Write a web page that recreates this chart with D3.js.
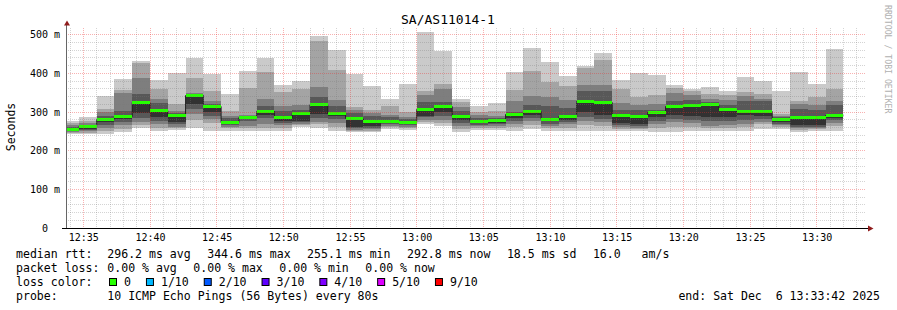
<!DOCTYPE html>
<html>
<head>
<meta charset="utf-8">
<script src="https://cdn.jsdelivr.net/npm/d3@7"></script>
<style>
  body { margin: 0; background: #fff; }
  svg text { font-family: 'DejaVu Sans Mono', monospace; white-space: pre; }
</style>
</head>
<body>
<svg id="chart"></svg>
<script>

// one entry per 80 s step: the 10 pings of that round, sorted (ms)
const pings = [
    [243, 246, 249, 251, 253, 256, 262, 266, 271, 278],
    [244, 247, 250, 253, 256, 263, 267, 271, 278, 288],
    [244, 252, 260, 267, 273, 281, 289, 300, 309, 342],
    [248, 257, 267, 274, 281, 291, 303, 349, 358, 386],
    [258, 266, 275, 285, 297, 325, 347, 388, 428, 433],
    [250, 260, 268, 277, 286, 305, 323, 335, 360, 384],
    [253, 258, 262, 268, 273, 293, 298, 303, 321, 401],
    [260, 280, 295, 309, 321, 344.6, 347, 350, 388, 441],
    [252, 272, 282, 289, 300, 315, 321, 329, 354, 398],
    [252, 258, 262, 266, 270, 274, 284, 291, 303, 347],
    [252, 258, 265, 276, 282, 287, 289, 292, 362, 407],
    [250, 260, 270, 285, 293, 302, 315, 335, 404, 441],
    [252, 258, 266, 272, 278, 286, 303, 315, 351, 371],
    [262, 266, 270, 274, 278, 297, 306, 319, 360, 381],
    [260, 268, 275, 285, 295, 322, 338, 364, 485, 498],
    [252, 262, 272, 282, 291, 297, 315, 332, 410, 461],
    [248, 251, 254, 258, 262, 284, 297, 306, 312, 399],
    [248, 252, 255, 259, 263, 278, 290, 298, 306, 368],
    [257, 261, 265, 268, 272, 278, 287, 293, 315, 335],
    [254, 258, 262, 266, 270, 274, 281, 288, 299, 372],
    [268, 274, 280, 286, 291, 308, 326, 343, 355, 508],
    [264, 272, 280, 290, 300, 316, 326, 360, 372, 459],
    [248, 257, 265, 272, 280, 291, 302, 312, 326, 335],
    [253, 258, 263, 267, 271, 277, 284, 292, 300, 315],
    [254, 259, 264, 268, 272, 279, 284, 290, 302, 323],
    [252, 262, 270, 278, 285, 294, 300, 328, 358, 404],
    [257, 266, 276, 285, 293, 302, 319, 342, 407, 466],
    [252, 258, 265, 270, 276, 283, 315, 339, 378, 429],
    [250, 260, 268, 274, 280, 291, 310, 332, 368, 394],
    [252, 266, 276, 288, 300, 328, 355, 371, 414, 418],
    [252, 264, 274, 283, 293, 327, 354, 369, 435, 453],
    [250, 256, 262, 266, 272, 293, 306, 323, 360, 384],
    [252, 256, 260, 264, 269, 290, 306, 319, 338, 401],
    [248, 260, 270, 278, 286, 300, 306, 321, 345, 397],
    [248, 262, 274, 283, 293, 315, 328, 349, 362, 371],
    [250, 262, 271, 280, 289, 319, 330, 345, 355, 360],
    [252, 258, 265, 276, 286, 322, 326, 335, 347, 364],
    [250, 258, 266, 276, 286, 309, 318, 330, 343, 354],
    [252, 262, 270, 280, 293, 302, 328, 341, 352, 390],
    [257, 268, 275, 282, 291, 302, 329, 334, 347, 381],
    [257, 262, 266, 270, 274, 281, 286, 291, 295, 354],
    [248, 254, 258, 262, 266, 288, 309, 321, 329, 404],
    [252, 256, 259, 262, 266, 286, 306, 319, 338, 372],
    [252, 264, 272, 279, 285, 292.8, 317, 329, 360, 464]
]

const medians = [
    255.1, 263, 281, 291, 325, 305, 293, 344.6, 315, 274, 287, 302,
    286, 297, 322, 297, 284, 278, 278, 274, 308, 316, 291, 277,
    279, 294, 302, 283, 291, 328, 327, 293, 290, 300, 315, 319,
    322, 309, 302, 302, 281, 288, 286, 292.8
]

// lost pings per step (out of 10)
const losses = [
    0, 0, 0, 0, 0, 0, 0, 0, 0, 0, 0, 0, 0, 0, 0, 0, 0, 0, 0, 0, 0, 0,
    0, 0, 0, 0, 0, 0, 0, 0, 0, 0, 0, 0, 0, 0, 0, 0, 0, 0, 0, 0, 0, 0
]

const lossLevels = [0, 1, 2, 3, 4, 5, 9]
const lossLabels = ['0', '1/10', '2/10', '3/10', '4/10', '5/10', '9/10']
const lossColors = ['#26ff00', '#00b8ff', '#0059ff', '#5e00ff', '#7e00ff', '#dd00ff', '#ff0000']

const yTicks = [0, 100, 200, 300, 400, 500]
const yTickLabels = ['0  ', '100 m', '200 m', '300 m', '400 m', '500 m']

const firstStep = new Date(2025, 11, 6, 12, 33, 20)
const stepSeconds = 80
const startTime = new Date(2025, 11, 6, 12, 33, 42)
const endTime = new Date(2025, 11, 6, 13, 33, 42)

const title = 'SA/AS11014-1'
const rttLabel = 'median rtt:'
const rttItems = ['296.2 ms avg', '344.6 ms max', '255.1 ms min', '292.8 ms now', '18.5 ms sd', '16.0   am/s']
const lossLabel = 'packet loss:'
const lossItems = ['0.00 % avg', '0.00 % max', '0.00 % min', '0.00 % now']
const probeLabel = 'probe:'
const probeText = '10 ICMP Echo Pings (56 Bytes) every 80s'
const endText = 'end: Sat Dec  6 13:33:42 2025'


class SmokeChart {

    constructor(config) {
        this.config = {
            parentElement: config.parentElement,
            width: 897,
            height: 310,
            plot: {left: 66, right: 866, top: 28, bottom: 228},
            yMax: 517.5,
            smoke: ['#cacaca', '#a4a4a4', '#7e7e7e', '#585858', '#323232'],
            minorGrid: 'rgba(120,120,120,0.32)',
            majorGrid: 'rgba(235,40,40,0.36)',
            charW: 6.95
        }
        this.initVis()
    }

    initVis() {
        let vis = this
        let c = vis.config

        vis.svg = d3.select(c.parentElement)
            .attr('width', c.width)
            .attr('height', c.height)

        vis.xScale = d3.scaleTime()
            .domain([startTime, endTime])
            .range([c.plot.left, c.plot.right])

        vis.yScale = d3.scaleLinear()
            .domain([0, c.yMax])
            .range([c.plot.bottom, c.plot.top])

        vis.svg.append('clipPath')
            .attr('id', 'plot-clip')
            .append('rect')
            .attr('x', c.plot.left + 1)
            .attr('y', c.plot.top)
            .attr('width', c.plot.right - c.plot.left)
            .attr('height', c.plot.bottom - c.plot.top)

        vis.dataG = vis.svg.append('g').attr('clip-path', 'url(#plot-clip)')
        vis.gridG = vis.svg.append('g')
        vis.axisG = vis.svg.append('g')
        vis.textG = vis.svg.append('g')
    }

    updateVis() {
        let vis = this

        vis.steps = pings.map((p, i) => {
            let t0 = new Date(firstStep.getTime() + i * stepSeconds * 1000)
            let t1 = new Date(t0.getTime() + stepSeconds * 1000)
            let lossIdx = lossLevels.findIndex(l => l >= losses[i])
            return {t0, t1, p, median: medians[i], color: lossColors[lossIdx]}
        })

        vis.renderVis()
    }

    renderVis() {
        let vis = this
        let c = vis.config
        let x = vis.xScale
        let y = vis.yScale

        // smoke: nested bands, ping k to ping 10-k
        c.smoke.forEach((col, k) => {
            vis.dataG.selectAll(`.smoke-${k}`)
                .data(vis.steps)
                .join('rect')
                .attr('class', `smoke-${k}`)
                .attr('x', d => x(d.t0))
                .attr('width', d => x(d.t1) - x(d.t0))
                .attr('y', d => y(d.p[9 - k]))
                .attr('height', d => y(d.p[k]) - y(d.p[9 - k]))
                .attr('fill', col)
                .attr('shape-rendering', 'crispEdges')
        })

        // median step line
        let last = vis.steps[vis.steps.length - 1]
        let linePts = vis.steps.map(d => [d.t0, d.median]).concat([[last.t1, last.median]])
        vis.dataG.append('path')
            .datum(linePts)
            .attr('fill', 'none')
            .attr('stroke', '#202020')
            .attr('stroke-width', 1)
            .attr('d', d3.line().curve(d3.curveStepAfter).x(d => x(d[0])).y(d => Math.round(y(d[1])) + 0.5))

        vis.dataG.selectAll('.median')
            .data(vis.steps)
            .join('rect')
            .attr('class', 'median')
            .attr('x', d => x(d.t0))
            .attr('width', d => x(d.t1) - x(d.t0))
            .attr('y', d => Math.round(y(d.median)) - 1)
            .attr('height', 3)
            .attr('fill', d => d.color)
            .attr('shape-rendering', 'crispEdges')

        // grid
        let minorY = d3.range(20, 520, 20).filter(v => v % 100 !== 0 && y(v) >= c.plot.top)
        let minorT = d3.timeMinute.range(startTime, endTime).filter(t => t.getMinutes() % 5 !== 0)
        let majorT = d3.timeMinute.every(5).range(startTime, endTime)
        let px = v => Math.floor(v) + 0.5

        vis.gridG.selectAll('.hminor')
            .data(minorY)
            .join('line')
            .attr('x1', c.plot.left).attr('x2', c.plot.right)
            .attr('y1', d => px(y(d))).attr('y2', d => px(y(d)))
            .attr('stroke', c.minorGrid)
            .attr('stroke-dasharray', '1,1')
        vis.gridG.selectAll('.vminor')
            .data(minorT)
            .join('line')
            .attr('x1', d => px(x(d))).attr('x2', d => px(x(d)))
            .attr('y1', c.plot.top).attr('y2', c.plot.bottom)
            .attr('stroke', c.minorGrid)
            .attr('stroke-dasharray', '1,1')
        vis.gridG.selectAll('.hmajor')
            .data(yTicks.slice(1))
            .join('line')
            .attr('x1', c.plot.left).attr('x2', c.plot.right)
            .attr('y1', d => px(y(d))).attr('y2', d => px(y(d)))
            .attr('stroke', c.majorGrid)
            .attr('stroke-dasharray', '1,1')
        vis.gridG.selectAll('.vmajor')
            .data(majorT)
            .join('line')
            .attr('x1', d => px(x(d))).attr('x2', d => px(x(d)))
            .attr('y1', c.plot.top).attr('y2', c.plot.bottom)
            .attr('stroke', c.majorGrid)
            .attr('stroke-dasharray', '1,1')

        // axes
        vis.xAxis = d3.axisBottom(x)
            .tickValues(majorT)
            .tickFormat(d3.timeFormat('%H:%M'))
            .tickSize(0)
            .tickPadding(6)
        vis.axisG.append('g')
            .attr('transform', `translate(0,${c.plot.bottom})`)
            .call(vis.xAxis)
            .call(g => g.select('.domain').remove())
            .call(g => g.selectAll('text').attr('font-family', 'DejaVu Sans Mono').attr('font-size', 10).attr('fill', '#000'))

        vis.yAxis = d3.axisLeft(y)
            .tickValues(yTicks)
            .tickFormat((d, i) => yTickLabels[i])
            .tickSize(0)
            .tickPadding(6)
        vis.axisG.append('g')
            .attr('transform', `translate(${c.plot.left},0)`)
            .call(vis.yAxis)
            .call(g => g.select('.domain').remove())
            .call(g => g.selectAll('text').attr('font-family', 'DejaVu Sans Mono').attr('font-size', 10).attr('fill', '#000'))

        vis.axisG.append('line')
            .attr('x1', c.plot.left + 0.5).attr('x2', c.plot.left + 0.5)
            .attr('y1', c.plot.bottom).attr('y2', 24)
            .attr('stroke', '#666')
        vis.axisG.append('line')
            .attr('x1', 62).attr('x2', 869)
            .attr('y1', c.plot.bottom + 0.5).attr('y2', c.plot.bottom + 0.5)
            .attr('stroke', '#000')
        vis.axisG.append('path')
            .attr('d', 'M64,25.5L70,25.5L67,20.5Z')
            .attr('fill', '#901c1c')
        vis.axisG.append('path')
            .attr('d', 'M868,225.5L868,231.5L873.5,228.5Z')
            .attr('fill', '#901c1c')

        // titles
        vis.textG.append('text')
            .attr('x', 448).attr('y', 24)
            .attr('text-anchor', 'middle')
            .attr('font-size', 13)
            .text(title)
        vis.textG.append('text')
            .attr('transform', 'translate(15,127) rotate(-90)')
            .attr('text-anchor', 'middle')
            .attr('font-size', 11.5)
            .text('Seconds')
        vis.textG.append('text')
            .attr('transform', 'translate(885,5) rotate(90)')
            .attr('font-size', 8.2)
            .attr('fill', '#b0b0b0')
            .text('RRDTOOL / TOBI OETIKER')

        // legend
        let legend = vis.textG.append('g').attr('font-size', 11.55)
        let row = (label, items, yy) => {
            legend.append('text').attr('x', 16).attr('y', yy).text(label)
            let xx = 107.3
            items.forEach(s => {
                legend.append('text').attr('x', xx).attr('y', yy).text(s)
                xx += s.length * c.charW + 16.5
            })
        }
        row(rttLabel, rttItems, 258)
        row(lossLabel, lossItems, 272)
        row('loss color:', [], 286)
        row(probeLabel, [probeText], 300)

        let bx = 109
        lossLabels.forEach((lab, i) => {
            legend.append('rect')
                .attr('x', bx + 0.5).attr('y', 278.5)
                .attr('width', 7).attr('height', 7)
                .attr('fill', lossColors[i])
                .attr('stroke', '#000')
            legend.append('text').attr('x', bx + 15).attr('y', 286).text(lab)
            bx += 15 + lab.length * c.charW + 15
        })

        legend.append('text')
            .attr('x', 880).attr('y', 300)
            .attr('text-anchor', 'end')
            .text(endText)
    }
}

let chart = new SmokeChart({parentElement: '#chart'})
chart.updateVis()
</script>
</body>
</html>
